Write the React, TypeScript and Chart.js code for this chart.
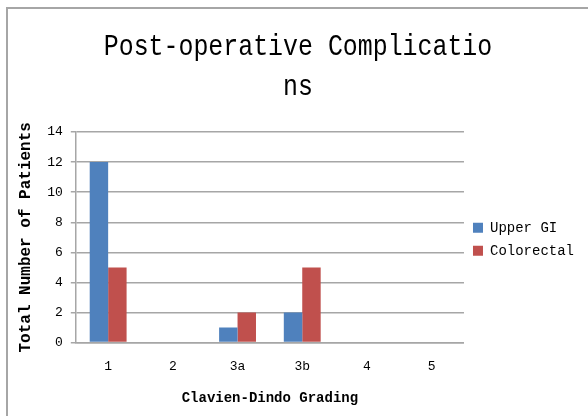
import React, { useEffect, useRef } from "react";
import { Chart, registerables } from "chart.js";

Chart.register(...registerables);

const categories = ["1", "2", "3a", "3b", "4", "5"];
const upperGI = [12, 0, 1, 2, 0, 0];
const colorectal = [5, 0, 2, 5, 0, 0];
const yTicks = [0, 2, 4, 6, 8, 10, 12, 14];
const titleLines = ["Post-operative Complicatio", "ns"];

const FONT = "'Liberation Mono', 'DejaVu Sans Mono', monospace";

const titlePlugin = {
  id: "condensedTitle",
  afterLayout(chart: any) {
    const l = chart.legend;
    if (l && chart.chartArea) {
      l.top = chart.chartArea.top + 2;
      l.bottom = chart.chartArea.bottom + 2;
    }
  },
  afterDraw(chart: any) {
    const ctx = chart.ctx;
    const cx = chart.width / 2;
    ctx.save();
    ctx.fillStyle = "#000";
    ctx.font = `30px ${FONT}`;
    ctx.textAlign = "center";
    ctx.textBaseline = "alphabetic";
    titleLines.forEach((line, i) => {
      ctx.save();
      ctx.translate(cx, 46 + i * 40);
      ctx.scale(0.83, 1);
      ctx.fillText(line, 0, 0);
      ctx.restore();
    });
    ctx.restore();
  },
};

export default function App() {
  const ref = useRef<HTMLCanvasElement | null>(null);
  useEffect(() => {
    if (!ref.current) return;
    const chart = new Chart(ref.current, {
      type: "bar",
      data: {
        labels: categories,
        datasets: [
          { label: "Upper GI", data: upperGI, backgroundColor: "#4F81BD", borderWidth: 0 },
          { label: "Colorectal", data: colorectal, backgroundColor: "#C0504D", borderWidth: 0 },
        ],
      },
      plugins: [titlePlugin],
      options: {
        animation: false,
        responsive: false,
        maintainAspectRatio: false,
        layout: { padding: { left: 8, right: 4, top: 123, bottom: 9 } },
        datasets: { bar: { categoryPercentage: 0.57, barPercentage: 1 } },
        plugins: {
          title: { display: false },
          legend: {
            position: "right",
            labels: {
              boxWidth: 10,
              boxHeight: 10,
              padding: 9,
              color: "#000",
              font: { family: FONT, size: 14 },
            },
          },
          tooltip: { enabled: false },
        },
        scales: {
          x: {
            grid: { display: false, drawTicks: false },
            border: { display: true, color: "#a6a6a6", width: 1.5 },
            ticks: { color: "#000", padding: 16, font: { family: FONT, size: 13 } },
            title: {
              display: true,
              text: "Clavien-Dindo Grading",
              color: "#000",
              font: { family: FONT, size: 14, weight: "bold" },
              padding: { top: 0, bottom: 0 },
            },
          },
          y: {
            min: 0,
            max: 14,
            afterBuildTicks: (axis: any) => {
              axis.ticks = yTicks.map((v) => ({ value: v }));
            },
            grid: { color: "#a6a6a6", lineWidth: 1.5, tickLength: 5 },
            border: { display: true, color: "#a6a6a6", width: 1.5 },
            ticks: { color: "#000", padding: 8, font: { family: FONT, size: 13 } },
            title: {
              display: true,
              text: "Total Number of Patients",
              color: "#000",
              font: { family: FONT, size: 16, weight: "bold" },
              padding: { top: 0, bottom: 4 },
            },
          },
        },
      },
    });
    return () => chart.destroy();
  }, []);
  return (
    <div
      style={{
        position: "absolute",
        left: 6,
        top: 7,
        width: 582,
        height: 409,
        boxSizing: "border-box",
        borderLeft: "2px solid #a6a6a6",
        borderTop: "2px solid #a6a6a6",
        background: "#fff",
      }}
    >
      <canvas ref={ref} width={580} height={407} style={{ display: "block" }} />
    </div>
  );
}
